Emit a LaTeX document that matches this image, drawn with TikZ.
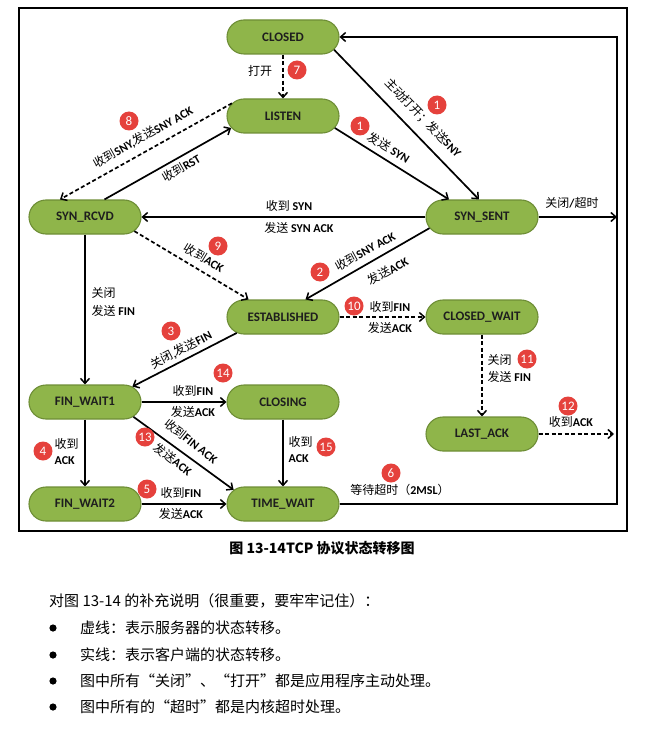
\documentclass[tikz,border=0pt]{standalone}
\usepackage{fontspec}
\setmainfont{Carlito}
\newfontfamily\cjk{Noto Sans CJK SC}
\usetikzlibrary{arrows.meta,shapes.misc}
\definecolor{statefill}{HTML}{8FB54A}
\definecolor{stateborder}{HTML}{6E8E36}
\definecolor{badgered}{HTML}{E5413C}
\definecolor{statetext}{HTML}{1E1E1E}
\newcommand\zh[1]{{\cjk #1}}
\newcommand\en[1]{{\fontsize{12}{14}\selectfont\bfseries #1}}
\tikzset{
  state/.style={rounded rectangle, draw=stateborder, line width=1.1pt, fill=statefill,
    minimum width=112pt, minimum height=34pt, inner sep=0pt, text=statetext,
    font=\fontsize{13}{15}\selectfont\bfseries},
  badge/.style={circle, fill=badgered, text=white, inner sep=0pt, minimum size=19pt,
    font=\fontsize{13}{13}\selectfont},
  lbl/.style={font=\fontsize{12}{14}\selectfont, inner sep=0.5pt, text=black},
  conn/.style={line width=1.7pt, -{Straight Barb[length=5pt,width=9pt,line width=1.5pt]}},
  dconn/.style={conn, dash pattern=on 4pt off 2.5pt},
  bodytext/.style={font=\cjk\fontsize{15}{18}\selectfont, inner sep=0pt, anchor=west}
}
\begin{document}
\begin{tikzpicture}[x=1pt,y=-1pt]
\useasboundingbox (0,0) rectangle (645,730);
\draw[line width=1.1pt] (19,8) rectangle (627,531);

% states
\node[state] (closed) at (283,37) {CLOSED};
\node[state] (listen) at (283,116) {LISTEN};
\node[state] (synrcvd) at (85,217) {SYN\_RCVD};
\node[state] (synsent) at (482,217) {SYN\_SENT};
\node[state] (estab) at (283,317) {ESTABLISHED};
\node[state] (closewait) at (482,317) {CLOSED\_WAIT};
\node[state] (fwa) at (85,402) {FIN\_WAIT1};
\node[state] (closing) at (283,402) {CLOSING};
\node[state] (lastack) at (482,434) {LAST\_ACK};
\node[state] (fwb) at (85,504) {FIN\_WAIT2};
\node[state] (timewait) at (283,504) {TIME\_WAIT};

\coordinate (rtop) at (617,37);
\coordinate (rbot) at (617,504);
\coordinate (rmid) at (617,217);
\coordinate (ackend) at (614,434);

% connectors
\draw[dconn] (closed.south) -- (listen.north);
\draw[dconn] (listen.166) -- (synrcvd.145);
\draw[conn] (synrcvd.42) -- (listen.193);
\draw[conn] (listen.-13) -- (synsent.152);
\draw[conn] (closed.-14) -- (synsent.100);
\draw[conn] (synsent.west) -- (synrcvd.east);
\draw[conn] (synsent.east) -- (rmid);
\draw[dconn] (synrcvd.-16) -- (estab.153);
\draw[conn] (synsent.192) -- (estab.38);
\draw[dconn] (estab.east) -- (closewait.west);
\draw[conn] (synrcvd.south) -- (fwa.north);
\draw[conn] (estab.199) -- (fwa.18);
\draw[dconn] (closewait.south) -- (lastack.north);
\draw[dconn] (lastack.east) -- (ackend);
\draw[conn] (fwa.east) -- (closing.west);
\draw[conn] (fwa.south) -- (fwb.north);
\draw[conn] (fwa.-17) -- (timewait.164);
\draw[conn] (closing.south) -- (timewait.north);
\draw[conn] (fwb.east) -- (timewait.west);
\draw[conn] (timewait.east) -- (rbot) -- (rtop) -- (closed.east);

% labels
\node[lbl] (l7) at (260,71) {\zh{打开}};
\node[badge] (b7) at (297,70) {7};

\node[lbl, rotate=29.3] (l8) at (143,137) {\zh{收到}\en{SNY,}\zh{发送}\en{SNY ACK}};
\node[badge] (b8) at (129,121) {8};

\node[lbl, rotate=29.9] (lrst) at (181,168) {\zh{收到}\en{RST}};

\node[lbl, rotate=-32] (l1a) at (389,148) {\zh{发送} \en{SYN}};
\node[badge] (b1a) at (360,126) {1};

\node[lbl, rotate=-46] (l1b) at (423,118) {\zh{主动打开；发送}\en{SNY}};
\node[badge] (b1b) at (437,105) {1};

\node[lbl] (lto) at (572,203) {\zh{关闭}\en{/}\zh{超时}};

\node[lbl] (lsyn1) at (289,206) {\zh{收到} \en{SYN}};
\node[lbl] (lsyn2) at (299,228) {\zh{发送} \en{SYN ACK}};

\node[lbl, rotate=-31] (l9) at (204,258) {\zh{收到}\en{ACK}};
\node[badge] (b9) at (218,246) {9};

\node[lbl, rotate=29] (l2a) at (365,251) {\zh{收到}\en{SNY ACK}};
\node[lbl, rotate=29] (l2b) at (388,271) {\zh{发送}\en{ACK}};
\node[badge] (b2) at (320,272) {2};

\node[lbl] (l10a) at (390,307) {\zh{收到}\en{FIN}};
\node[lbl] (l10b) at (390,328) {\zh{发送}\en{ACK}};
\node[badge] (b10) at (354,306) {10};

\node[lbl, anchor=west] (lcl1) at (91,293) {\zh{关闭}};
\node[lbl, anchor=west] (lcl2) at (91,311) {\zh{发送} \en{FIN}};

\node[lbl, rotate=27.7] (l3) at (181,350) {\zh{关闭}\en{,}\zh{发送}\en{FIN}};
\node[badge] (b3) at (171,331) {3};

\node[lbl, anchor=west] (l11a) at (487,360) {\zh{关闭}};
\node[lbl, anchor=west] (l11b) at (487,377) {\zh{发送} \en{FIN}};
\node[badge] (b11) at (527,359) {11};

\node[lbl] (l14a) at (193,391) {\zh{收到}\en{FIN}};
\node[lbl] (l14b) at (193,412) {\zh{发送}\en{ACK}};
\node[badge] (b14) at (223,373) {14};

\node[lbl, anchor=west] (l4a) at (54,444) {\zh{收到}};
\node[lbl, anchor=west] (l4b) at (54,461) {\en{ACK}};
\node[badge] (b4) at (43,451) {4};

\node[lbl, rotate=-38] (l13a) at (191,441) {\zh{收到}\en{FIN ACK}};
\node[lbl, rotate=-38] (l13b) at (173,459) {\zh{发送}\en{ACK}};
\node[badge] (b13) at (145,437) {13};

\node[lbl, anchor=west] (l15a) at (288,442) {\zh{收到}};
\node[lbl, anchor=west] (l15b) at (288,459) {\en{ACK}};
\node[badge] (b15) at (326,447) {15};

\node[lbl] (l5a) at (181,493) {\zh{收到}\en{FIN}};
\node[lbl] (l5b) at (181,514) {\zh{发送}\en{ACK}};
\node[badge] (b5) at (147,489) {5};

\node[lbl] (l6) at (400,490) {\zh{等待超时（}\en{2MSL}\zh{）}};
\node[badge] (b6) at (391,473) {6};

\node[lbl] (l12) at (571,422) {\zh{收到}\en{ACK}};
\node[badge] (b12) at (568,406) {12};

% caption and notes
\node[font=\cjk\bfseries\fontsize{14}{16}\selectfont, inner sep=0pt] (cap) at (322,548) {图 13-14TCP 协议状态转移图};
\node[bodytext] (t0) at (49,601) {对图 13-14 的补充说明（很重要，要牢牢记住）：};
\fill (53,628) circle (3.6pt);
\node[bodytext] (t1) at (80,628) {虚线：表示服务器的状态转移。};
\fill (53,655) circle (3.6pt);
\node[bodytext] (t2) at (80,655) {实线：表示客户端的状态转移。};
\fill (53,681) circle (3.6pt);
\node[bodytext] (t3) at (80,681) {图中所有“关闭”、“打开”都是应用程序主动处理。};
\fill (53,707) circle (3.6pt);
\node[bodytext] (t4) at (80,707) {图中所有的“超时”都是内核超时处理。};
\end{tikzpicture}
\end{document}
